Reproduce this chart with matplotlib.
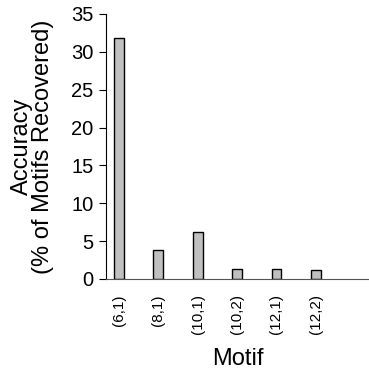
import matplotlib
matplotlib.use("Agg")
import matplotlib.pyplot as plt

motifs = ['(6,1)', '(8,1)', '(10,1)', '(10,2)', '(12,1)', '(12,2)']
accuracy = [31.8, 3.8, 6.2, 1.3, 1.35, 1.15]

plt.rcParams['font.family'] = ['Liberation Sans', 'DejaVu Sans']

fig = plt.figure(figsize=(3.69, 3.75), dpi=100)
ax = fig.add_axes([0.287, 0.256, 0.713, 0.707])

x = list(range(len(motifs)))
ax.bar(x, accuracy, width=0.25, color='#c0c0c0', edgecolor='black', linewidth=1)

ax.set_xlim(-0.33, 6.35)
ax.set_ylim(0, 35)
ax.set_yticks([0, 5, 10, 15, 20, 25, 30, 35])
ax.set_xticks(x)
ax.set_xticklabels(motifs, rotation=90, fontsize=11)
ax.tick_params(axis='x', length=0, pad=11)
ax.tick_params(axis='y', labelsize=14.5, length=5, direction='out', pad=4)

ax.spines['top'].set_visible(False)
ax.spines['right'].set_visible(False)
ax.spines['bottom'].set_color('#555555')

ax.set_xlabel('Motif', fontsize=17, labelpad=10)
ax.set_ylabel('Accuracy\n(% of Motifs Recovered)', fontsize=17, linespacing=0.95, labelpad=12)

fig.savefig('out.png', dpi=100)
